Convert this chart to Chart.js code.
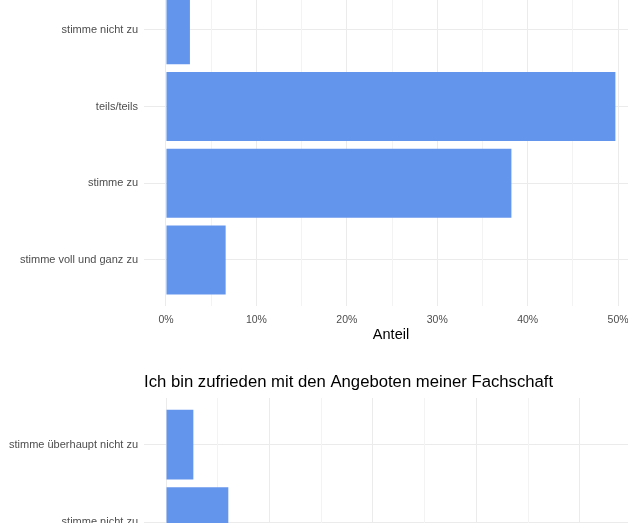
<!DOCTYPE html>
<html>
<head>
<meta charset="utf-8">
<script src="https://cdn.jsdelivr.net/npm/chart.js@4/dist/chart.umd.min.js"></script>
<style>
  html, body { margin: 0; padding: 0; width: 628px; height: 523px; overflow: hidden; background: #fff; }
  canvas { position: absolute; left: 0; }
  #c1 { top: -130px; }
  #c2 { top: 360px; }
</style>
</head>
<body>
<canvas id="c1" width="698" height="475"></canvas>
<canvas id="c2" width="698" height="480"></canvas>
<script>
// ---- data ----
const categories = ['stimme überhaupt nicht zu', 'stimme nicht zu', 'teils/teils', 'stimme zu', 'stimme voll und ganz zu'];
const topValues = [2.7, 2.65, 49.7, 38.2, 6.6];           // Anteil in %
const bottomValues = [2.64, 6.02, null, null, null];       // Anteil in % (rest off-picture)
const bottomTitle = 'Ich bin zufrieden mit den Angeboten meiner Fachschaft';
const xTitle = 'Anteil';

const FONT = '"Liberation Sans", Arial, Helvetica, sans-serif';
const BAR = '#6495ED';

function makeChart(id, values, opts) {
  const n = categories.length;
  return new Chart(document.getElementById(id), {
    type: 'bar',
    data: {
      datasets: [{
        data: values.map((v, i) => ({ x: v, y: i })),
        backgroundColor: BAR,
        borderWidth: 0,
        categoryPercentage: 0.9,
        barPercentage: 1.0
      }]
    },
    options: {
      indexAxis: 'y',
      responsive: false,
      animation: false,
      devicePixelRatio: 1,
      layout: { padding: opts.padding },
      plugins: {
        legend: { display: false },
        tooltip: { enabled: false },
        title: opts.title ? {
          display: true, text: opts.title, color: '#000',
          align: 'start', fullSize: false,
          font: { family: FONT, size: 16.7, weight: 'normal' },
          padding: { top: 12, bottom: 6 }
        } : { display: false }
      },
      scales: {
        y: {
          type: 'linear',
          reverse: true,
          offset: false,
          min: -0.6, max: n - 1 + 0.6,
          ticks: {
            stepSize: 1, autoSkip: false, includeBounds: false, padding: 6, color: '#4D4D4D',
            font: { family: FONT, size: 11 },
            callback: v => categories[v]
          },
          afterBuildTicks: s => { s.ticks = s.ticks.filter(t => Number.isInteger(t.value) && t.value >= 0 && t.value < n); },
          afterFit: s => { s.width = opts.yWidth; },
          grid: { color: '#EBEBEB', lineWidth: 1, drawTicks: false, offset: false },
          border: { display: false }
        },
        x: {
          type: 'linear',
          offset: false,
          min: opts.xmin, max: opts.xmax,
          ticks: {
            stepSize: 5, autoSkip: false, includeBounds: false, padding: 7.5, color: '#4D4D4D', maxRotation: 0,
            font: { family: FONT, size: 10.5 },
            callback: v => (v % 10 === 0 ? v + '%' : '')
          },
          afterBuildTicks: s => { s.ticks = s.ticks.filter(t => t.value >= 0 && Math.abs(t.value / 5 - Math.round(t.value / 5)) < 1e-9); },
          afterFit: s => { s.height = 39; },
          title: {
            display: true, text: xTitle, color: '#000',
            font: { family: FONT, size: 14.5 },
            padding: { top: 0, bottom: 1 }
          },
          grid: {
            drawTicks: false, offset: false,
            color: ctx => (ctx.tick && ctx.tick.value % 10 === 0 ? '#EBEBEB' : '#F3F3F3'),
            lineWidth: 1
          },
          border: { display: false }
        }
      }
    }
  });
}

// top chart (its upper part lies outside the picture)
makeChart('c1', topValues, {
  padding: { top: 37, left: 0, right: 60, bottom: 0 },
  yWidth: 144,
  xmin: -2.43, xmax: 52.2
});

// bottom chart (its lower part lies outside the picture)
makeChart('c2', bottomValues, {
  title: bottomTitle,
  padding: { top: 0, left: 0, right: 69.5, bottom: 0 },
  yWidth: 144,
  xmin: -2.13, xmax: 44.7
});
</script>
</body>
</html>
